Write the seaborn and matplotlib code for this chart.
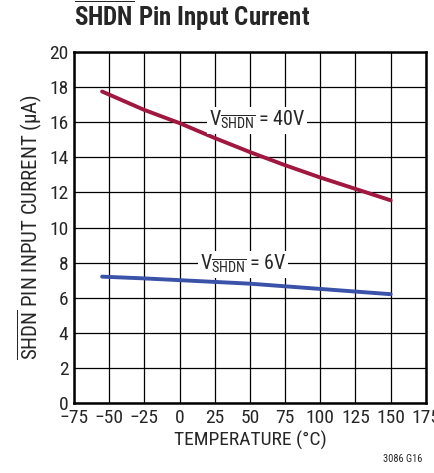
import numpy as np
import pandas as pd
import matplotlib
matplotlib.use("Agg")
import matplotlib.pyplot as plt
import seaborn as sns
from matplotlib import font_manager

# Curve data
temp = [-55, -25, 0, 25, 50, 75, 100, 125, 150]
i_40v = [17.75, 16.7, 15.95, 15.1, 14.3, 13.55, 12.85, 12.2, 11.55]
i_6v = [7.2, 7.1, 7.0, 6.9, 6.8, 6.65, 6.5, 6.35, 6.2]

xticks = [-75, -50, -25, 0, 25, 50, 75, 100, 125, 150, 175]
yticks = [0, 2, 4, 6, 8, 10, 12, 14, 16, 18, 20]

df = pd.concat([
    pd.DataFrame({"temp": temp, "current": i_40v, "cond": "40V"}),
    pd.DataFrame({"temp": temp, "current": i_6v, "cond": "6V"}),
])

sns.set_theme(style="white")
names = {f.name for f in font_manager.fontManager.ttflist}
fam = "Liberation Sans"
for cand in ["Liberation Sans Narrow", "Roboto Condensed", "Open Sans Condensed", "DejaVu Sans Condensed"]:
    if cand in names:
        fam = cand
        break
plt.rcParams["font.family"] = [fam, "DejaVu Sans"]
plt.rcParams["mathtext.fontset"] = "custom"
plt.rcParams["mathtext.rm"] = fam
plt.rcParams["mathtext.it"] = fam
plt.rcParams["mathtext.bf"] = fam + ":bold"

fig = plt.figure(figsize=(4.35, 4.73), dpi=100)
ax = fig.add_axes([0.170, 0.148, 0.809, 0.742])

sns.lineplot(data=df, x="temp", y="current", hue="cond",
             palette={"40V": "#a0173f", "6V": "#3a52a8"},
             linewidth=2.8, legend=False, ax=ax, zorder=3)

ax.set_xlim(-75, 175)
ax.set_ylim(0, 20)
ax.set_xticks(xticks)
ax.set_yticks(yticks)
ax.set_xticklabels([str(t).replace("-", "\u2212") for t in xticks], fontsize=14)
ax.set_yticklabels([str(t) for t in yticks], fontsize=14)
ax.tick_params(length=0, pad=4)
ax.grid(True, color="black", linewidth=0.9)
for s in ax.spines.values():
    s.set_color("black")
    s.set_linewidth(1.8)

ax.set_xlabel("TEMPERATURE (°C)", fontsize=14, labelpad=3)
ax.set_ylabel(r"$\overline{\mathrm{SHDN}}$ PIN INPUT CURRENT (μA)", fontsize=15, labelpad=4)

box = dict(facecolor="white", edgecolor="none", pad=1.5)
ax.text(55, 16.1, r"V$_{\overline{\mathrm{SHDN}}}$ = 40V", fontsize=14.5,
        ha="center", va="center", bbox=box, zorder=4)
ax.text(45, 7.9, r"V$_{\overline{\mathrm{SHDN}}}$ = 6V", fontsize=14.5,
        ha="center", va="center", bbox=box, zorder=4)

fig.text(0.17, 0.93, r"$\overline{\mathbf{SHDN}}$ Pin Input Current", fontsize=18,
         fontweight="bold", ha="left", va="bottom")
fig.text(0.97, 0.02, "3086 G16", fontsize=7.5, ha="right", va="bottom")

fig.savefig("out.png", dpi=100)
